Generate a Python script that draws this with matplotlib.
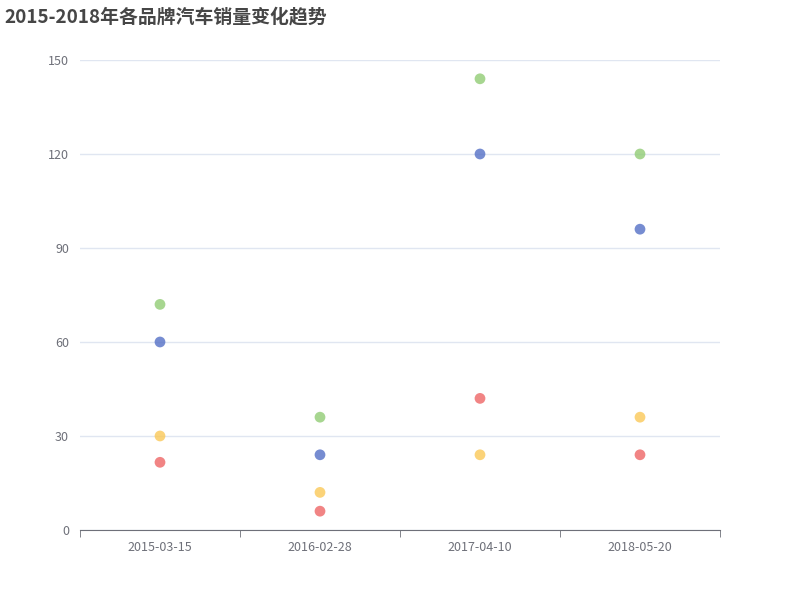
import matplotlib.pyplot as plt

plt.rcParams['font.family'] = ['Noto Sans CJK SC', 'DejaVu Sans']

# x categories and series values
dates = ['2015-03-15', '2016-02-28', '2017-04-10', '2018-05-20']
brand_a = [72, 36, 144, 120]    # green
brand_b = [60, 24, 120, 96]     # blue
brand_c = [30, 12, 24, 36]      # yellow
brand_d = [21.6, 6, 42, 24]     # red

series = [
    (brand_a, '#91cc75'),
    (brand_b, '#5470c6'),
    (brand_c, '#fac858'),
    (brand_d, '#ee6666'),
]

fig = plt.figure(figsize=(8, 6), dpi=100)
ax = fig.add_axes([0.1, 0.1167, 0.8, 0.7833])

x = [i + 0.5 for i in range(len(dates))]
for vals, col in series:
    ax.scatter(x, vals, s=60, color=col, alpha=0.8, edgecolors='none', zorder=3)

ax.set_xlim(0, len(dates))
ax.set_ylim(0, 150)
ax.set_yticks(range(0, 151, 30))
ax.set_xticks(x)
ax.set_xticklabels(dates)
ax.set_xticks(range(len(dates) + 1), minor=True)
ax.tick_params(axis='x', which='major', length=0, pad=8, labelsize=9, labelcolor='#6e7079')
ax.tick_params(axis='x', which='minor', length=5, color='#6e7079')
ax.tick_params(axis='y', length=0, pad=8, labelsize=9, labelcolor='#6e7079')

ax.grid(axis='y', color='#e0e6f1', linewidth=1)
ax.set_axisbelow(True)
for side in ['top', 'right', 'left']:
    ax.spines[side].set_visible(False)
ax.spines['bottom'].set_color('#6e7079')

fig.text(0.006, 0.972, '2015-2018年各品牌汽车销量变化趋势', fontsize=13.6, fontweight='bold',
         color='#464646', ha='left', va='center')

fig.savefig('out.png', dpi=100)
